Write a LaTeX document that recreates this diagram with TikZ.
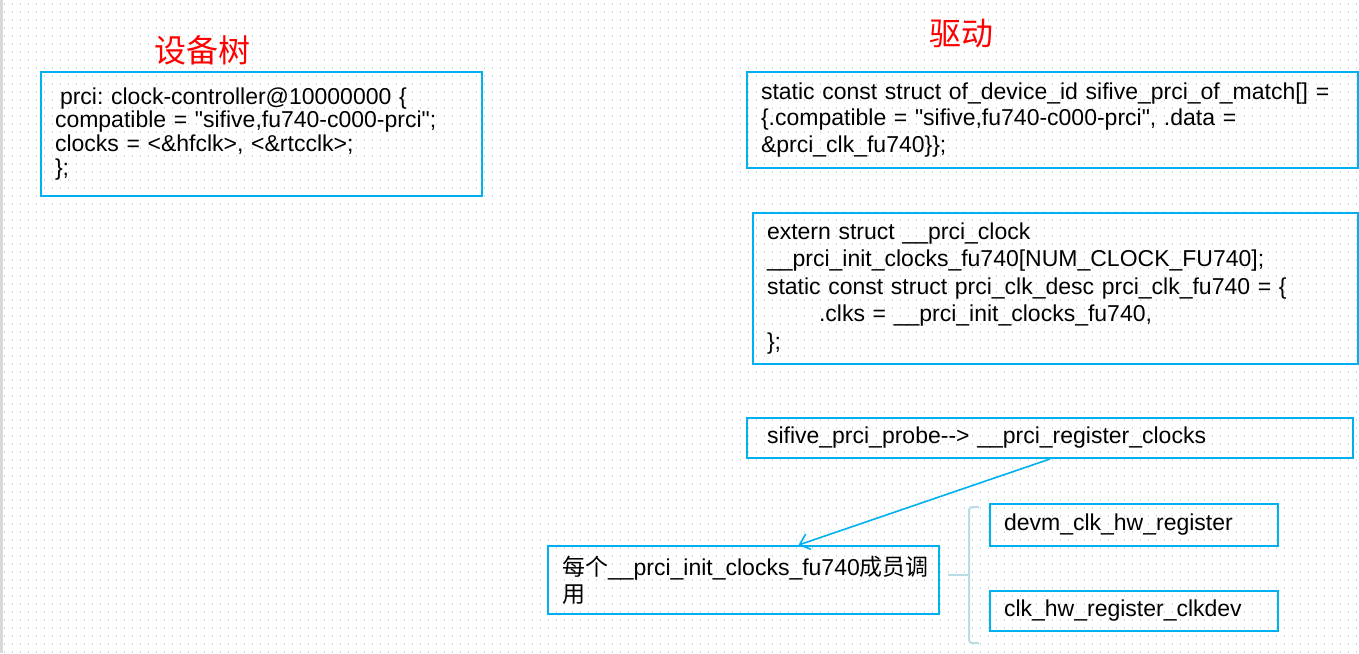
\documentclass[tikz,border=0pt]{standalone}
\usepackage{fontspec}
\setmainfont{Liberation Sans}
\newfontfamily\lsans{Liberation Sans}
\newfontfamily\cjk{Noto Sans CJK SC}
\usetikzlibrary{arrows.meta,calc}
\definecolor{boxblue}{HTML}{00B0F0}
\definecolor{dotcol}{HTML}{C9DEE8}
\definecolor{bracecol}{HTML}{B9DCE5}
\definecolor{edgegray}{HTML}{D9D9D9}
\frenchspacing
\tikzset{
  box/.style={draw=boxblue, line width=2pt, anchor=north west, inner xsep=14pt, inner ysep=0pt, align=left},
  title/.style={text=red, font=\cjk\fontsize{32}{32}\selectfont, inner sep=0pt},
  conn/.style={draw=boxblue, line width=1.6pt, -{Straight Barb[length=9pt,width=16pt,line width=1.6pt]}},
  brace/.style={draw=bracecol, line width=2pt, rounded corners=3pt}
}
\begin{document}
\begin{tikzpicture}[x=1pt,y=-1pt]
\useasboundingbox (0,0) rectangle (1359,653);
\fill[white] (0,0) rectangle (1359,653);
\foreach \yy in {4,12,...,652} \draw[dotcol, line width=1.1pt, dash pattern=on 1.1pt off 6.9pt] (4,\yy) -- (1359,\yy);
\fill[edgegray] (0,0) rectangle (3,653);

\node[title] (t1) at (202,50) {设备树};
\node[title] (t2) at (961,34) {驱动};

\node[box, text width=413pt, minimum height=124pt, font=\lsans\fontsize{23}{24}\selectfont] (dt) at (40,71)
 {\hspace*{5pt}prci: clock-controller@10000000 \{\\[-0.5pt]
  compatible = "sifive,fu740-c000-prci";\\
  clocks = <\&hfclk>, <\&rtcclk>;\\
  \};};

\node[box, text width=583pt, minimum height=96pt, font=\lsans\fontsize{23}{26.5}\selectfont] (m) at (746,71)
 {static const struct of\_device\_id sifive\_prci\_of\_match[] =\\
  \{.compatible = "sifive,fu740-c000-prci", .data =\\
  \&prci\_clk\_fu740\}\};};

\node[box, text width=577pt, minimum height=151pt, font=\lsans\fontsize{23}{27.5}\selectfont] (d) at (752,212)
 {extern struct \_\_prci\_clock\\
  \_\_prci\_init\_clocks\_fu740[NUM\_CLOCK\_FU740];\\
  static const struct prci\_clk\_desc prci\_clk\_fu740 = \{\\
  \hspace*{52pt}.clks = \_\_prci\_init\_clocks\_fu740,\\
  \};};

\node[box, inner xsep=20pt, text width=566pt, minimum height=40pt, font=\lsans\fontsize{23}{26}\selectfont] (p) at (746,417)
 {sifive\_prci\_probe-{}-> \_\_prci\_register\_clocks};

\node[box, text width=363pt, minimum height=68pt, font=\lsans\fontsize{23}{27}\selectfont] (e) at (547,545)
 {{\cjk 每个}\_\_prci\_init\_clocks\_fu740{\cjk 成员调}\\{\cjk 用}};

\node[box, text width=260pt, minimum height=42pt, font=\lsans\fontsize{23}{26}\selectfont] (r1) at (989,503)
 {devm\_clk\_hw\_register};
\node[box, text width=260pt, minimum height=40pt, font=\lsans\fontsize{23}{26}\selectfont] (r2) at (989,590)
 {clk\_hw\_register\_clkdev};

\draw[conn] (p.south) -- ($(e.north west)!0.64!(e.north east)$);

\coordinate (bt) at (979,507);
\coordinate (bb) at (979,643);
\coordinate (bm) at (948,575);
\draw[brace] (bt) -- (969,507) -- (969,643) -- (bb);
\draw[brace] (bm) -- (969,575);
\end{tikzpicture}
\end{document}
